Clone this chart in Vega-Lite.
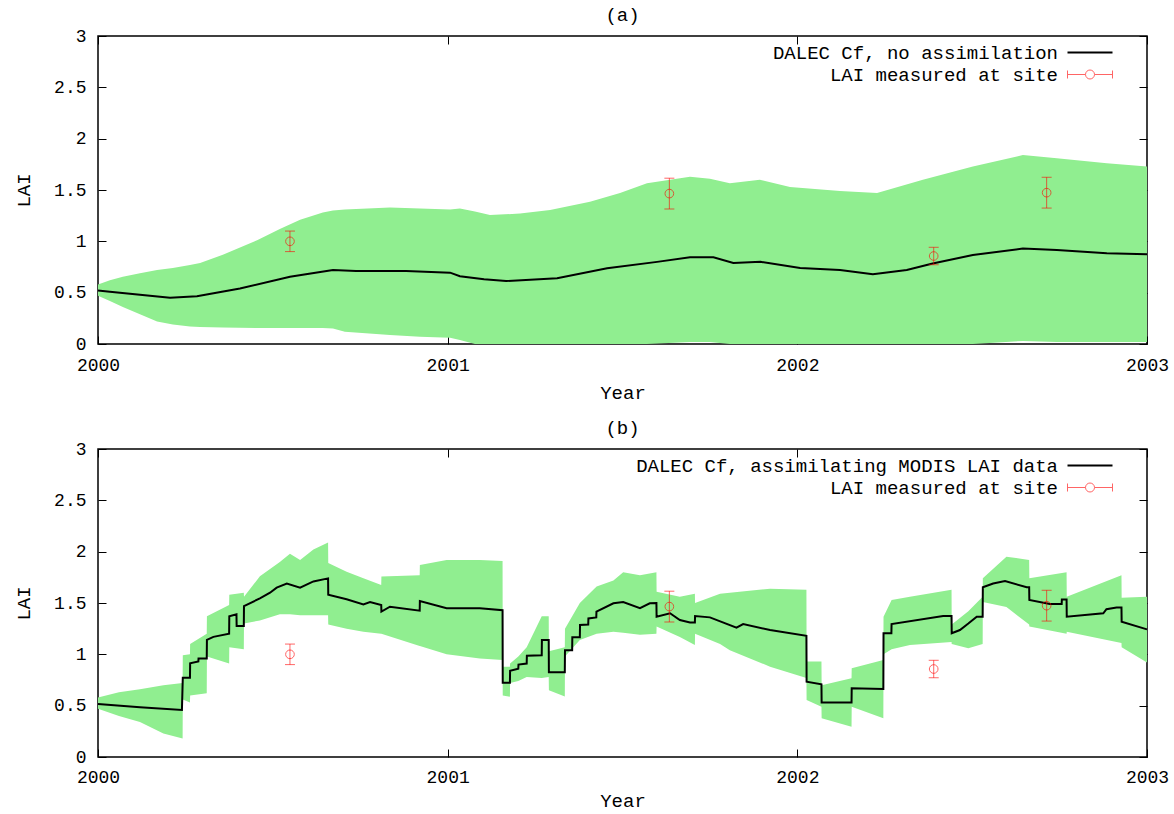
{
  "$schema": "https://vega.github.io/schema/vega-lite/v6.json",
  "background": "white",
  "padding": {"left": 13, "top": 5, "right": 5, "bottom": 3},
  "config": {
    "view": {"stroke": "#000", "strokeWidth": 1.5},
    "axis": {"domain": false, "grid": false, "labelFlush": false, "tickColor": "#000", "tickWidth": 1, "labelFont": "Liberation Mono", "labelFontSize": 18, "labelColor": "#000", "titleFont": "Liberation Mono", "titleFontSize": 19, "titleFontWeight": "normal", "titleColor": "#000"},
    "title": {"font": "Liberation Mono", "fontSize": 19, "fontWeight": "normal", "color": "#000", "anchor": "middle", "offset": 2},
    "legend": {"labelFont": "Liberation Mono", "labelFontSize": 19, "labelColor": "#000", "labelLimit": 800, "symbolSize": 100, "rowPadding": 2}
  },
  "datasets": {
    "bandA": [
      {"year": 2000.000, "lo": 0.47, "hi": 0.58}, {"year": 2000.034, "lo": 0.42, "hi": 0.62}, {"year": 2000.071, "lo": 0.36, "hi": 0.655},
      {"year": 2000.120, "lo": 0.29, "hi": 0.69}, {"year": 2000.169, "lo": 0.22, "hi": 0.72}, {"year": 2000.214, "lo": 0.19, "hi": 0.74},
      {"year": 2000.263, "lo": 0.17, "hi": 0.77}, {"year": 2000.292, "lo": 0.165, "hi": 0.79}, {"year": 2000.357, "lo": 0.16, "hi": 0.87},
      {"year": 2000.455, "lo": 0.155, "hi": 1.01}, {"year": 2000.520, "lo": 0.155, "hi": 1.12}, {"year": 2000.578, "lo": 0.155, "hi": 1.21},
      {"year": 2000.643, "lo": 0.155, "hi": 1.28}, {"year": 2000.672, "lo": 0.15, "hi": 1.30}, {"year": 2000.706, "lo": 0.12, "hi": 1.31},
      {"year": 2000.835, "lo": 0.088, "hi": 1.33}, {"year": 2000.921, "lo": 0.07, "hi": 1.32}, {"year": 2001.007, "lo": 0.06, "hi": 1.31},
      {"year": 2001.035, "lo": 0.04, "hi": 1.32}, {"year": 2001.078, "lo": 0.0, "hi": 1.29}, {"year": 2001.121, "lo": 0.0, "hi": 1.256},
      {"year": 2001.207, "lo": 0.0, "hi": 1.27}, {"year": 2001.293, "lo": 0.0, "hi": 1.305}, {"year": 2001.407, "lo": 0.0, "hi": 1.386},
      {"year": 2001.493, "lo": 0.0, "hi": 1.47}, {"year": 2001.570, "lo": 0.0, "hi": 1.565}, {"year": 2001.693, "lo": 0.02, "hi": 1.63},
      {"year": 2001.750, "lo": 0.02, "hi": 1.61}, {"year": 2001.807, "lo": 0.0, "hi": 1.565}, {"year": 2001.893, "lo": 0.0, "hi": 1.60},
      {"year": 2001.979, "lo": 0.0, "hi": 1.53}, {"year": 2002.122, "lo": 0.0, "hi": 1.49}, {"year": 2002.228, "lo": 0.0, "hi": 1.47},
      {"year": 2002.359, "lo": 0.0, "hi": 1.60}, {"year": 2002.502, "lo": 0.0, "hi": 1.73}, {"year": 2002.645, "lo": 0.03, "hi": 1.84},
      {"year": 2002.742, "lo": 0.02, "hi": 1.81}, {"year": 2002.885, "lo": 0.02, "hi": 1.76}, {"year": 2003.000, "lo": 0.02, "hi": 1.73}
    ],
    "lineA": [
      {"year": 2000.000, "lai": 0.52}, {"year": 2000.034, "lai": 0.51}, {"year": 2000.120, "lai": 0.48}, {"year": 2000.206, "lai": 0.45},
      {"year": 2000.283, "lai": 0.465}, {"year": 2000.406, "lai": 0.54}, {"year": 2000.549, "lai": 0.655}, {"year": 2000.672, "lai": 0.72},
      {"year": 2000.738, "lai": 0.71}, {"year": 2000.881, "lai": 0.71}, {"year": 2001.007, "lai": 0.695}, {"year": 2001.035, "lai": 0.66},
      {"year": 2001.104, "lai": 0.63}, {"year": 2001.167, "lai": 0.613}, {"year": 2001.313, "lai": 0.64}, {"year": 2001.456, "lai": 0.737},
      {"year": 2001.599, "lai": 0.80}, {"year": 2001.693, "lai": 0.844}, {"year": 2001.760, "lai": 0.844}, {"year": 2001.817, "lai": 0.79},
      {"year": 2001.895, "lai": 0.80}, {"year": 2002.008, "lai": 0.74}, {"year": 2002.122, "lai": 0.72}, {"year": 2002.216, "lai": 0.68},
      {"year": 2002.313, "lai": 0.72}, {"year": 2002.387, "lai": 0.785}, {"year": 2002.502, "lai": 0.867}, {"year": 2002.645, "lai": 0.93},
      {"year": 2002.742, "lai": 0.915}, {"year": 2002.885, "lai": 0.883}, {"year": 2003.000, "lai": 0.873}
    ],
    "bandB": [
      {"year": 2000.000, "lo": 0.47, "hi": 0.58}, {"year": 2000.060, "lo": 0.40, "hi": 0.63}, {"year": 2000.120, "lo": 0.34, "hi": 0.66},
      {"year": 2000.187, "lo": 0.23, "hi": 0.70}, {"year": 2000.242, "lo": 0.18, "hi": 0.72}, {"year": 2000.2425, "lo": 0.56, "hi": 0.99},
      {"year": 2000.263, "lo": 0.53, "hi": 1.00}, {"year": 2000.2635, "lo": 0.60, "hi": 1.10}, {"year": 2000.311, "lo": 0.62, "hi": 1.20},
      {"year": 2000.3115, "lo": 0.98, "hi": 1.37}, {"year": 2000.375, "lo": 0.91, "hi": 1.48}, {"year": 2000.3755, "lo": 1.07, "hi": 1.58},
      {"year": 2000.417, "lo": 1.05, "hi": 1.60}, {"year": 2000.4175, "lo": 1.30, "hi": 1.56}, {"year": 2000.463, "lo": 1.33, "hi": 1.76},
      {"year": 2000.520, "lo": 1.39, "hi": 1.90}, {"year": 2000.549, "lo": 1.39, "hi": 1.98}, {"year": 2000.578, "lo": 1.38, "hi": 1.92},
      {"year": 2000.616, "lo": 1.38, "hi": 2.02}, {"year": 2000.658, "lo": 1.38, "hi": 2.09}, {"year": 2000.6585, "lo": 1.29, "hi": 1.89},
      {"year": 2000.711, "lo": 1.25, "hi": 1.805}, {"year": 2000.759, "lo": 1.22, "hi": 1.74}, {"year": 2000.810, "lo": 1.20, "hi": 1.675},
      {"year": 2000.8105, "lo": 1.20, "hi": 1.757}, {"year": 2000.920, "lo": 1.08, "hi": 1.77}, {"year": 2000.9205, "lo": 1.08, "hi": 1.87},
      {"year": 2000.997, "lo": 1.00, "hi": 1.92}, {"year": 2001.092, "lo": 0.96, "hi": 1.92}, {"year": 2001.157, "lo": 0.945, "hi": 1.91},
      {"year": 2001.1575, "lo": 0.60, "hi": 0.88}, {"year": 2001.178, "lo": 0.588, "hi": 0.88}, {"year": 2001.1785, "lo": 0.72, "hi": 0.91},
      {"year": 2001.202, "lo": 0.74, "hi": 0.98}, {"year": 2001.226, "lo": 0.78, "hi": 1.07}, {"year": 2001.269, "lo": 0.77, "hi": 1.37},
      {"year": 2001.289, "lo": 0.78, "hi": 1.37}, {"year": 2001.2895, "lo": 0.65, "hi": 1.03}, {"year": 2001.335, "lo": 0.59, "hi": 1.07},
      {"year": 2001.3355, "lo": 0.98, "hi": 1.25}, {"year": 2001.378, "lo": 1.14, "hi": 1.50}, {"year": 2001.426, "lo": 1.20, "hi": 1.66},
      {"year": 2001.474, "lo": 1.22, "hi": 1.72}, {"year": 2001.502, "lo": 1.21, "hi": 1.80}, {"year": 2001.550, "lo": 1.19, "hi": 1.77},
      {"year": 2001.597, "lo": 1.20, "hi": 1.80}, {"year": 2001.5975, "lo": 1.27, "hi": 1.61}, {"year": 2001.664, "lo": 1.17, "hi": 1.56},
      {"year": 2001.707, "lo": 1.09, "hi": 1.59}, {"year": 2001.7075, "lo": 1.20, "hi": 1.50}, {"year": 2001.779, "lo": 1.10, "hi": 1.59},
      {"year": 2001.807, "lo": 1.04, "hi": 1.60}, {"year": 2001.922, "lo": 0.88, "hi": 1.64}, {"year": 2002.026, "lo": 0.77, "hi": 1.63},
      {"year": 2002.0265, "lo": 0.555, "hi": 0.93}, {"year": 2002.069, "lo": 0.49, "hi": 0.93}, {"year": 2002.0695, "lo": 0.377, "hi": 0.70},
      {"year": 2002.155, "lo": 0.295, "hi": 0.766}, {"year": 2002.1555, "lo": 0.49, "hi": 0.864}, {"year": 2002.246, "lo": 0.377, "hi": 0.945},
      {"year": 2002.2465, "lo": 1.00, "hi": 1.367}, {"year": 2002.2696, "lo": 1.05, "hi": 1.53}, {"year": 2002.322, "lo": 1.09, "hi": 1.56},
      {"year": 2002.441, "lo": 1.12, "hi": 1.63}, {"year": 2002.4415, "lo": 1.10, "hi": 1.29}, {"year": 2002.489, "lo": 1.06, "hi": 1.42},
      {"year": 2002.530, "lo": 1.10, "hi": 1.56}, {"year": 2002.5305, "lo": 1.51, "hi": 1.74}, {"year": 2002.598, "lo": 1.46, "hi": 1.95},
      {"year": 2002.663, "lo": 1.29, "hi": 1.92}, {"year": 2002.6635, "lo": 1.27, "hi": 1.74}, {"year": 2002.770, "lo": 1.20, "hi": 1.80},
      {"year": 2002.7705, "lo": 1.22, "hi": 1.56}, {"year": 2002.927, "lo": 1.11, "hi": 1.77}, {"year": 2002.9275, "lo": 1.07, "hi": 1.55},
      {"year": 2003.000, "lo": 0.92, "hi": 1.56}
    ],
    "lineB": [
      {"year": 2000.000, "lai": 0.516}, {"year": 2000.120, "lai": 0.485}, {"year": 2000.240, "lai": 0.458}, {"year": 2000.2425, "lai": 0.773},
      {"year": 2000.263, "lai": 0.773}, {"year": 2000.2635, "lai": 0.912}, {"year": 2000.287, "lai": 0.93}, {"year": 2000.2875, "lai": 0.96},
      {"year": 2000.311, "lai": 0.96}, {"year": 2000.3115, "lai": 1.14}, {"year": 2000.330, "lai": 1.17}, {"year": 2000.375, "lai": 1.20},
      {"year": 2000.3755, "lai": 1.37}, {"year": 2000.396, "lai": 1.39}, {"year": 2000.3965, "lai": 1.276}, {"year": 2000.417, "lai": 1.276},
      {"year": 2000.4175, "lai": 1.47}, {"year": 2000.463, "lai": 1.545}, {"year": 2000.492, "lai": 1.60}, {"year": 2000.511, "lai": 1.65},
      {"year": 2000.540, "lai": 1.69}, {"year": 2000.578, "lai": 1.65}, {"year": 2000.616, "lai": 1.71}, {"year": 2000.658, "lai": 1.74},
      {"year": 2000.6585, "lai": 1.58}, {"year": 2000.711, "lai": 1.536}, {"year": 2000.759, "lai": 1.487}, {"year": 2000.778, "lai": 1.51},
      {"year": 2000.810, "lai": 1.48}, {"year": 2000.8105, "lai": 1.416}, {"year": 2000.835, "lai": 1.464}, {"year": 2000.920, "lai": 1.425},
      {"year": 2000.9205, "lai": 1.52}, {"year": 2000.997, "lai": 1.45}, {"year": 2001.092, "lai": 1.45}, {"year": 2001.157, "lai": 1.43},
      {"year": 2001.1575, "lai": 0.724}, {"year": 2001.178, "lai": 0.724}, {"year": 2001.1785, "lai": 0.84}, {"year": 2001.202, "lai": 0.86},
      {"year": 2001.2025, "lai": 0.90}, {"year": 2001.226, "lai": 0.91}, {"year": 2001.2265, "lai": 0.987}, {"year": 2001.269, "lai": 0.99},
      {"year": 2001.2695, "lai": 1.14}, {"year": 2001.289, "lai": 1.14}, {"year": 2001.2895, "lai": 0.825}, {"year": 2001.335, "lai": 0.825},
      {"year": 2001.3355, "lai": 1.04}, {"year": 2001.356, "lai": 1.04}, {"year": 2001.3565, "lai": 1.166}, {"year": 2001.378, "lai": 1.166},
      {"year": 2001.3785, "lai": 1.286}, {"year": 2001.402, "lai": 1.29}, {"year": 2001.4025, "lai": 1.35}, {"year": 2001.425, "lai": 1.36},
      {"year": 2001.4255, "lai": 1.415}, {"year": 2001.474, "lai": 1.497}, {"year": 2001.502, "lai": 1.51}, {"year": 2001.550, "lai": 1.45},
      {"year": 2001.578, "lai": 1.497}, {"year": 2001.597, "lai": 1.50}, {"year": 2001.5975, "lai": 1.367}, {"year": 2001.636, "lai": 1.40},
      {"year": 2001.664, "lai": 1.334}, {"year": 2001.693, "lai": 1.31}, {"year": 2001.707, "lai": 1.31}, {"year": 2001.7075, "lai": 1.373},
      {"year": 2001.750, "lai": 1.36}, {"year": 2001.826, "lai": 1.26}, {"year": 2001.845, "lai": 1.295}, {"year": 2001.922, "lai": 1.237},
      {"year": 2002.026, "lai": 1.18}, {"year": 2002.0265, "lai": 0.734}, {"year": 2002.069, "lai": 0.708}, {"year": 2002.0695, "lai": 0.53},
      {"year": 2002.155, "lai": 0.53}, {"year": 2002.1555, "lai": 0.669}, {"year": 2002.246, "lai": 0.662}, {"year": 2002.2465, "lai": 1.205},
      {"year": 2002.269, "lai": 1.205}, {"year": 2002.2695, "lai": 1.295}, {"year": 2002.417, "lai": 1.373}, {"year": 2002.441, "lai": 1.373},
      {"year": 2002.4415, "lai": 1.205}, {"year": 2002.465, "lai": 1.237}, {"year": 2002.489, "lai": 1.30}, {"year": 2002.513, "lai": 1.367},
      {"year": 2002.530, "lai": 1.367}, {"year": 2002.5305, "lai": 1.653}, {"year": 2002.560, "lai": 1.69}, {"year": 2002.594, "lai": 1.714},
      {"year": 2002.656, "lai": 1.653}, {"year": 2002.663, "lai": 1.653}, {"year": 2002.6635, "lai": 1.53}, {"year": 2002.722, "lai": 1.49},
      {"year": 2002.756, "lai": 1.49}, {"year": 2002.7565, "lai": 1.535}, {"year": 2002.770, "lai": 1.535}, {"year": 2002.7705, "lai": 1.367},
      {"year": 2002.875, "lai": 1.40}, {"year": 2002.884, "lai": 1.44}, {"year": 2002.913, "lai": 1.457}, {"year": 2002.927, "lai": 1.457},
      {"year": 2002.9275, "lai": 1.318}, {"year": 2003.000, "lai": 1.243}
    ],
    "obs": [
      {"year": 2000.549, "lai": 1.0, "lo": 0.9, "hi": 1.1},
      {"year": 2001.634, "lai": 1.465, "lo": 1.315, "hi": 1.615},
      {"year": 2002.390, "lai": 0.857, "lo": 0.772, "hi": 0.942},
      {"year": 2002.713, "lai": 1.474, "lo": 1.324, "hi": 1.624}
    ]
  },
  "vconcat": [
    {
      "width": 1049, "height": 308,
      "title": {"text": "(a)"},
      "resolve": {"axis": {"x": "independent", "y": "independent"}},
      "layer": [
        {
          "data": {"name": "bandA"},
          "mark": {"type": "area", "color": "#90ee90", "opacity": 1},
          "encoding": {
            "x": {"field": "year", "type": "quantitative", "scale": {"domain": [2000, 2003], "nice": false, "zero": false}, "axis": {"orient": "bottom", "values": [2000, 2001, 2002, 2003], "format": "d", "title": "Year", "labelPadding": 20, "titlePadding": 9, "tickSize": -8}},
            "y": {"field": "lo", "type": "quantitative", "scale": {"domain": [0, 3], "nice": false}, "axis": {"orient": "left", "values": [0, 0.5, 1, 1.5, 2, 2.5, 3], "format": "~g", "title": "LAI", "labelPadding": 20, "titlePadding": 20, "tickSize": -8}},
            "y2": {"field": "hi"}
          }
        },
        {
          "data": {"name": "lineA"},
          "mark": {"type": "line", "strokeWidth": 2},
          "encoding": {
            "x": {"field": "year", "type": "quantitative", "axis": {"orient": "top", "values": [2000, 2001, 2002, 2003], "labels": false, "title": null, "tickSize": -8}},
            "y": {"field": "lai", "type": "quantitative", "axis": {"orient": "right", "values": [0, 0.5, 1, 1.5, 2, 2.5, 3], "labels": false, "title": null, "tickSize": -8}},
            "color": {
              "datum": "DALEC Cf, no assimilation",
              "scale": {"domain": ["DALEC Cf, no assimilation", "LAI measured at site"], "range": ["#000000", "#ff0000"]},
              "legend": {
                "orient": "none", "legendX": 672, "legendY": 7, "title": null,
                "encode": {
                  "symbols": {"update": {
                    "shape": {"signal": "datum.value == 'LAI measured at site' ? 'M-4.5,0H-0.9M0.9,0H4.5M-4.5,-0.8V0.8M4.5,-0.8V0.8M0.9,0A0.9,0.9 0 1,1 -0.9,0A0.9,0.9 0 1,1 0.9,0' : 'M-4.5,0H4.5'"},
                    "fill": {"value": "transparent"},
                    "stroke": {"signal": "datum.value == 'LAI measured at site' ? '#ff0000' : '#000000'"},
                    "strokeWidth": {"signal": "datum.value == 'LAI measured at site' ? 1 : 2"},
                    "opacity": {"signal": "datum.value == 'LAI measured at site' ? 0.6 : 1"},
                    "x": {"value": 320}
                  }},
                  "labels": {"update": {"align": {"value": "right"}, "x": {"value": 288}}}
                }
              }
            }
          }
        },
        {
          "data": {"name": "obs"},
          "mark": {"type": "rule", "color": "#ff0000", "opacity": 0.6, "strokeWidth": 1},
          "encoding": {"x": {"field": "year", "type": "quantitative", "axis": null}, "y": {"field": "lo", "type": "quantitative", "axis": null}, "y2": {"field": "hi"}}
        },
        {
          "data": {"name": "obs"},
          "mark": {"type": "tick", "orient": "horizontal", "color": "#ff0000", "opacity": 0.6, "size": 10, "thickness": 1},
          "encoding": {"x": {"field": "year", "type": "quantitative", "axis": null}, "y": {"field": "lo", "type": "quantitative", "axis": null}}
        },
        {
          "data": {"name": "obs"},
          "mark": {"type": "tick", "orient": "horizontal", "color": "#ff0000", "opacity": 0.6, "size": 10, "thickness": 1},
          "encoding": {"x": {"field": "year", "type": "quantitative", "axis": null}, "y": {"field": "hi", "type": "quantitative", "axis": null}}
        },
        {
          "data": {"name": "obs"},
          "mark": {"type": "point", "shape": "circle", "filled": false, "size": 75, "strokeWidth": 1, "opacity": 0.6},
          "encoding": {"x": {"field": "year", "type": "quantitative", "axis": null}, "y": {"field": "lai", "type": "quantitative", "axis": null}, "color": {"datum": "LAI measured at site"}}
        }
      ]
    },
    {
      "width": 1049, "height": 308,
      "title": {"text": "(b)"},
      "resolve": {"axis": {"x": "independent", "y": "independent"}},
      "layer": [
        {
          "data": {"name": "bandB"},
          "mark": {"type": "area", "color": "#90ee90", "opacity": 1},
          "encoding": {
            "x": {"field": "year", "type": "quantitative", "scale": {"domain": [2000, 2003], "nice": false, "zero": false}, "axis": {"orient": "bottom", "values": [2000, 2001, 2002, 2003], "format": "d", "title": "Year", "labelPadding": 19, "titlePadding": 5, "tickSize": -8}},
            "y": {"field": "lo", "type": "quantitative", "scale": {"domain": [0, 3], "nice": false}, "axis": {"orient": "left", "values": [0, 0.5, 1, 1.5, 2, 2.5, 3], "format": "~g", "title": "LAI", "labelPadding": 20, "titlePadding": 20, "tickSize": -8}},
            "y2": {"field": "hi"}
          }
        },
        {
          "data": {"name": "lineB"},
          "mark": {"type": "line", "strokeWidth": 2},
          "encoding": {
            "x": {"field": "year", "type": "quantitative", "axis": {"orient": "top", "values": [2000, 2001, 2002, 2003], "labels": false, "title": null, "tickSize": -8}},
            "y": {"field": "lai", "type": "quantitative", "axis": {"orient": "right", "values": [0, 0.5, 1, 1.5, 2, 2.5, 3], "labels": false, "title": null, "tickSize": -8}},
            "color": {
              "datum": "DALEC Cf, assimilating MODIS LAI data",
              "scale": {"domain": ["DALEC Cf, assimilating MODIS LAI data", "LAI measured at site"], "range": ["#000000", "#ff0000"]},
              "legend": {
                "orient": "none", "legendX": 535, "legendY": 7, "title": null,
                "encode": {
                  "symbols": {"update": {
                    "shape": {"signal": "datum.value == 'LAI measured at site' ? 'M-4.5,0H-0.9M0.9,0H4.5M-4.5,-0.8V0.8M4.5,-0.8V0.8M0.9,0A0.9,0.9 0 1,1 -0.9,0A0.9,0.9 0 1,1 0.9,0' : 'M-4.5,0H4.5'"},
                    "fill": {"value": "transparent"},
                    "stroke": {"signal": "datum.value == 'LAI measured at site' ? '#ff0000' : '#000000'"},
                    "strokeWidth": {"signal": "datum.value == 'LAI measured at site' ? 1 : 2"},
                    "opacity": {"signal": "datum.value == 'LAI measured at site' ? 0.6 : 1"},
                    "x": {"value": 457}
                  }},
                  "labels": {"update": {"align": {"value": "right"}, "x": {"value": 425}}}
                }
              }
            }
          }
        },
        {
          "data": {"name": "obs"},
          "mark": {"type": "rule", "color": "#ff0000", "opacity": 0.6, "strokeWidth": 1},
          "encoding": {"x": {"field": "year", "type": "quantitative", "axis": null}, "y": {"field": "lo", "type": "quantitative", "axis": null}, "y2": {"field": "hi"}}
        },
        {
          "data": {"name": "obs"},
          "mark": {"type": "tick", "orient": "horizontal", "color": "#ff0000", "opacity": 0.6, "size": 10, "thickness": 1},
          "encoding": {"x": {"field": "year", "type": "quantitative", "axis": null}, "y": {"field": "lo", "type": "quantitative", "axis": null}}
        },
        {
          "data": {"name": "obs"},
          "mark": {"type": "tick", "orient": "horizontal", "color": "#ff0000", "opacity": 0.6, "size": 10, "thickness": 1},
          "encoding": {"x": {"field": "year", "type": "quantitative", "axis": null}, "y": {"field": "hi", "type": "quantitative", "axis": null}}
        },
        {
          "data": {"name": "obs"},
          "mark": {"type": "point", "shape": "circle", "filled": false, "size": 75, "strokeWidth": 1, "opacity": 0.6},
          "encoding": {"x": {"field": "year", "type": "quantitative", "axis": null}, "y": {"field": "lai", "type": "quantitative", "axis": null}, "color": {"datum": "LAI measured at site"}}
        }
      ]
    }
  ],
  "spacing": 105,
  "bounds": "flush",
  "resolve": {"scale": {"color": "independent"}, "legend": {"color": "independent"}}
}
